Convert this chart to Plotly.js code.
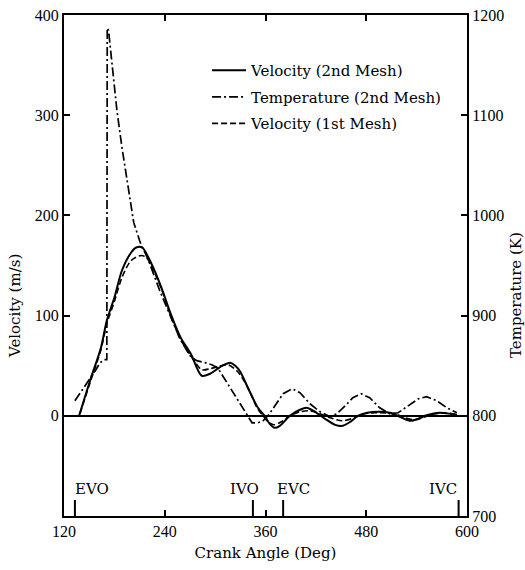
<!DOCTYPE html>
<html><head><meta charset="utf-8">
<script src="https://cdn.plot.ly/plotly-3.0.1.min.js"></script>
<style>html,body{margin:0;padding:0;background:#fff}</style>
</head><body><div id="chart" style="width:525px;height:570px"></div>
<script>
// Velocity (2nd Mesh)
const v2Angle = [138,151,164,171,180,189,200,206,213,224,236,247,259,271,284,294,303,311,318,324,330,339,351,359,365,371,377,389,401,409,419,431,443,452,461,470,481,496,508,520,532,542,550,559,568,580,588];
const v2Vel   = [0,35,68,95,118,145,163,168,168,152,128,102,78,62,40,42,47,51,53,50,44,28,8,0,-8,-12,-10,0,6,8,4,-3,-9,-10,-6,0,3,4,3,-1,-5,-3,0,2,3,2,1];
// Velocity (1st Mesh)
const v1Angle = [139,151,164,171,180,189,200,212,218,225,236,247,259,271,284,294,303,315,327,339,350,357,363,370,379,389,401,413,425,437,452,466,478,496,514,526,538,550,562,574,588];
const v1Vel   = [2,33,66,92,114,138,155,160,158,148,127,100,76,60,46,47,49,51,44,28,8,0,-6,-9,-6,0,4,5,2,-2,-5,-2,2,3,2,-2,-4,-1,2,3,1];
// Temperature (2nd Mesh)
const tAngle = [133,142,151,158,163,168,171,171.5,173,177,183,189,196,203,210,213,217,222,234,246,258,270,278,288,296,303,312,318,324,330,338,344,351,357,363,371,381,392,401,413,425,437,445,455,464,474,484,496,508,518,530,542,552,564,576,588];
const tTemp  = [815,826,837,846,853,856,856,1187,1185,1150,1105,1068,1030,993,975,968,962,952,925,900,877,860,855,853,851,848,836,827,819,811,800,793,793,795,800,810,822,827,823,812,804,799,802,810,818,822,818,808,802,803,810,817,819,815,808,803];
// Valve events
const eventAngles = [133,345,381,590];
const eventLabels = ['EVO','IVO','EVC','IVC'];
const xTicks = [120,240,360,480,600];
const vTicks = [0,100,200,300,400];
const tTicks = [700,800,900,1000,1100,1200];

const FONT = '"Liberation Serif","DejaVu Serif",serif';
const TFONT = '"DejaVu Serif","Liberation Serif",serif';

const traces = [
  {x: v2Angle, y: v2Vel, name: 'Velocity (2nd Mesh)', legendgroup: 'a', mode: 'lines', yaxis: 'y',
   line: {color: '#000', width: 2, shape: 'spline', smoothing: 0.8}},
  {x: tAngle, y: tTemp, name: 'Temperature (2nd Mesh)', legendgroup: 'b', mode: 'lines', yaxis: 'y2',
   line: {color: '#000', width: 1.7, dash: '9px,3px,2px,3px'}},
  {x: v1Angle, y: v1Vel, name: 'Velocity (1st Mesh)', legendgroup: 'c', mode: 'lines', yaxis: 'y',
   line: {color: '#000', width: 1.6, dash: '6px,3px', shape: 'spline', smoothing: 0.8}}
];

const shapes = eventAngles.map(a => ({type: 'line', xref: 'x', yref: 'y', x0: a, x1: a, y0: -100, y1: -84,
  line: {color: '#000', width: 2}}));
const shiftsX = [-2, -8, 10, 0];
const anchors = ['left', 'center', 'center', 'right'];
const annotations = eventAngles.map((a, i) => ({x: a, y: -73, xref: 'x', yref: 'y', text: eventLabels[i],
  showarrow: false, xanchor: anchors[i], yanchor: 'middle', xshift: shiftsX[i], font: {family: TFONT, size: 15, color: '#000'}}));
annotations.push({x: -0.1216, y: 0.419, xref: 'paper', yref: 'paper', text: 'Velocity (m/s)', textangle: -90,
  showarrow: false, xanchor: 'center', yanchor: 'middle', font: {family: TFONT, size: 15, color: '#000'}});
annotations.push({x: 1.1216, y: 0.441, xref: 'paper', yref: 'paper', text: 'Temperature (K)', textangle: -90,
  showarrow: false, xanchor: 'center', yanchor: 'middle', font: {family: TFONT, size: 15, color: '#000'}});

const layout = {
  width: 525, height: 570,
  margin: {l: 64, r: 58, t: 15, b: 54},
  paper_bgcolor: '#fff', plot_bgcolor: '#fff',
  font: {family: FONT, size: 15, color: '#000'},
  showlegend: true,
  legend: {x: 0.355, y: 0.922, xanchor: 'left', yanchor: 'top', bgcolor: 'rgba(0,0,0,0)',
    font: {family: TFONT, size: 15, color: '#000'}, tracegroupgap: 4, itemwidth: 34},
  xaxis: {range: [120, 600], tickvals: xTicks, ticks: 'inside', ticklen: 6, tickwidth: 2, tickcolor: '#000',
    showline: true, linecolor: '#000', linewidth: 2, mirror: 'ticks', showgrid: false, zeroline: false,
    title: {text: 'Crank Angle (Deg)', font: {family: TFONT, size: 15}, standoff: 8},
    tickfont: {family: FONT, size: 16}},
  yaxis: {range: [-100, 400], tickvals: vTicks, ticks: 'inside', ticklen: 6, tickwidth: 2, tickcolor: '#000',
    showline: true, linecolor: '#000', linewidth: 2, showgrid: false,
    zeroline: true, zerolinecolor: '#000', zerolinewidth: 2, tickfont: {family: FONT, size: 16}},
  yaxis2: {range: [700, 1200], tickvals: tTicks, overlaying: 'y', side: 'right', ticks: 'inside', ticklen: 6,
    tickwidth: 2, tickcolor: '#000', showline: true, linecolor: '#000', linewidth: 2, showgrid: false, zeroline: false,
    tickfont: {family: FONT, size: 16}},
  shapes: shapes,
  annotations: annotations
};

Plotly.newPlot('chart', traces, layout, {displayModeBar: false, staticPlot: true});
</script></body></html>
